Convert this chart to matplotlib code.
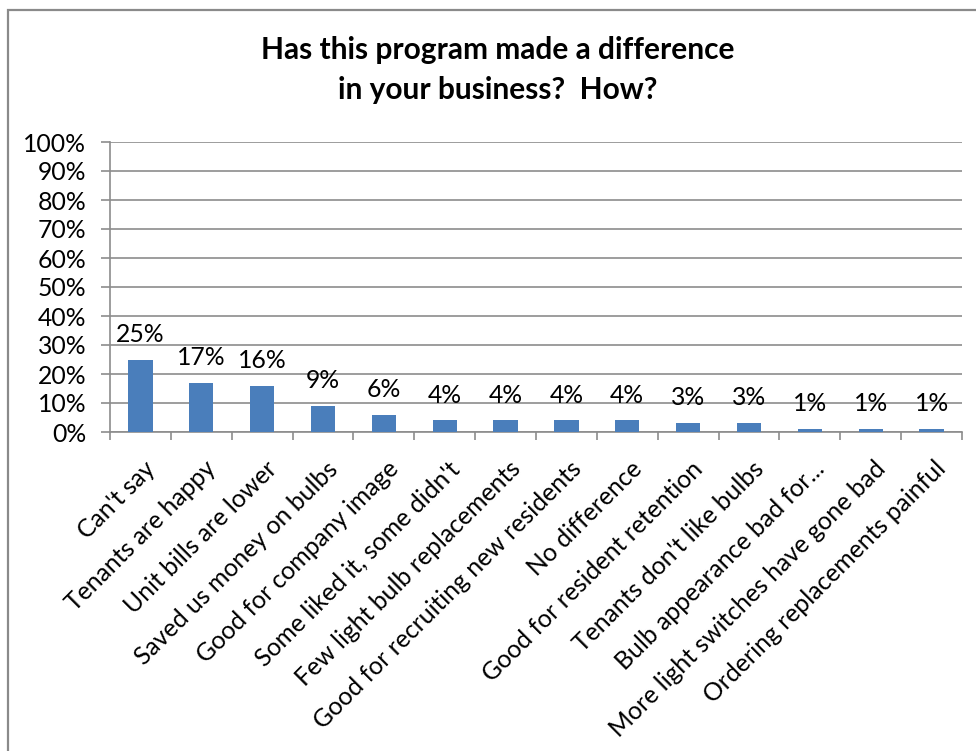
import matplotlib
matplotlib.use("Agg")
import matplotlib.pyplot as plt
from matplotlib.patches import Rectangle
from matplotlib.ticker import MultipleLocator, FuncFormatter, FixedLocator
import numpy as np

categories = [
    "Can't say",
    "Tenants are happy",
    "Unit bills are lower",
    "Saved us money on bulbs",
    "Good for company image",
    "Some liked it, some didn't",
    "Few light bulb replacements",
    "Good for recruiting new residents",
    "No difference",
    "Good for resident retention",
    "Tenants don't like bulbs",
    "Bulb appearance bad for...",
    "More light switches have gone bad",
    "Ordering replacements painful",
]
shares = [25, 17, 16, 9, 6, 4, 4, 4, 4, 3, 3, 1, 1, 1]
title = "Has this program made a difference\nin your business?  How?"

FONT = "Lato"
BAR = "#4A7EBB"
GRID = "#8C8C8C"
LABEL_SIZE = 17.8

plt.rcParams["font.family"] = [FONT, "DejaVu Sans"]

fig = plt.figure(figsize=(9.76, 7.51), dpi=100)
W, H = 976, 751

# chart frame (open towards the right and bottom edges)
fig.patches.append(Rectangle((8 / W, -0.05), 1.2, 1 - 10 / H + 0.05,
                             transform=fig.transFigure, fill=False,
                             edgecolor="#8A8A8A", linewidth=1.6))

ax = fig.add_axes([110 / W, 1 - 432 / H, (962 - 110) / W, (432 - 142) / H])
x = np.arange(len(categories))
ax.bar(x, shares, width=0.4, color=BAR, zorder=3)

ax.set_xlim(-0.5, len(categories) - 0.5)
ax.set_ylim(0, 100)
ax.yaxis.set_major_locator(MultipleLocator(10))
ax.yaxis.set_major_formatter(FuncFormatter(lambda v, p: f"{v:.0f}%"))
ax.grid(axis="y", color=GRID, linewidth=1.2, zorder=0)
ax.tick_params(axis="y", length=6.5, width=1.2, color=GRID, pad=10.5,
               labelsize=LABEL_SIZE)

ax.set_xticks(x)
ax.set_xticklabels([])
ax.xaxis.set_minor_locator(FixedLocator(np.arange(len(categories) + 1) - 0.5))
ax.tick_params(axis="x", which="major", length=0)
ax.tick_params(axis="x", which="minor", length=6, width=1.2, color=GRID)

for s in ["top", "right"]:
    ax.spines[s].set_visible(False)
for s in ["left", "bottom"]:
    ax.spines[s].set_color(GRID)
    ax.spines[s].set_linewidth(1.2)

for i, lab in enumerate(categories):
    ax.annotate(lab, xy=(i, 0), xycoords=("data", "axes fraction"),
                xytext=(2, -18), textcoords="offset points",
                rotation=45, ha="right", va="top", rotation_mode="anchor",
                fontsize=LABEL_SIZE)

for i, v in enumerate(shares):
    ax.annotate(f"{v}%", xy=(i, v), xytext=(0, 10), textcoords="offset points",
                ha="center", va="bottom", fontsize=LABEL_SIZE)

fig.text(498 / W, 1 - 70 / H, title, ha="center", va="center",
         fontsize=21.5, fontweight="bold", linespacing=1.55)

fig.savefig("out.png", dpi=100, facecolor="white")
